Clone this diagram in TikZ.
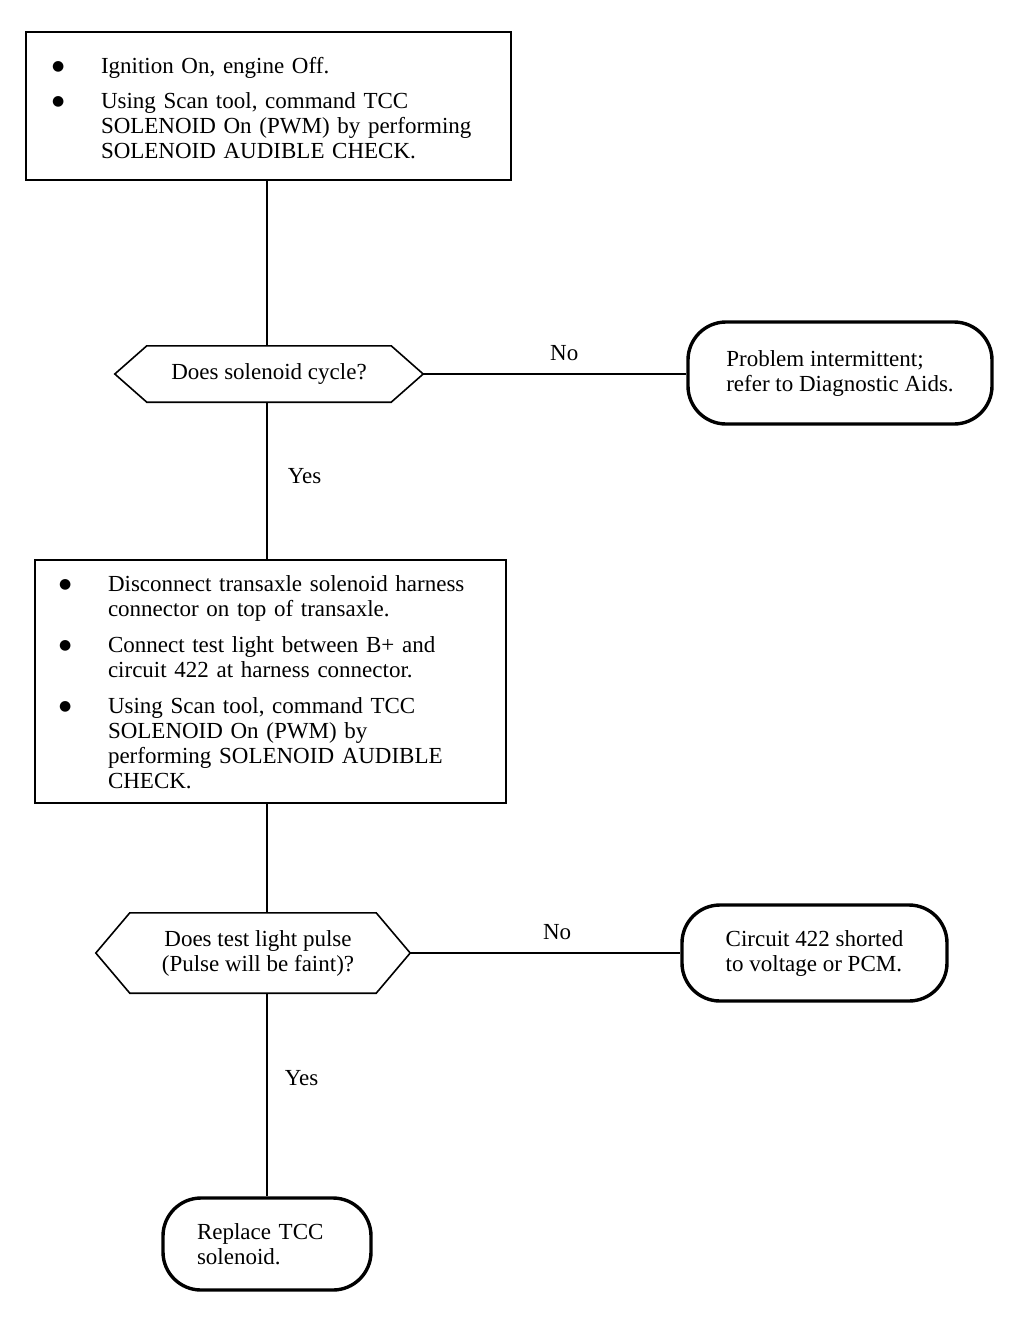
\documentclass[tikz,border=0pt]{standalone}
\usepackage{fontspec}
\setmainfont{Liberation Serif}
\newfontfamily\djv{DejaVu Sans}
\usetikzlibrary{calc}
\newcommand\blt{\makebox[49pt][l]{\raisebox{3pt}{\djv\fontsize{14}{14}\selectfont ●}}}
\begin{document}
\begin{tikzpicture}[x=1pt,y=-1pt,
  every node/.style={font=\fontsize{23}{25}\selectfont},
  procbox/.style={draw, line width=2.8pt, rectangle, anchor=center, align=left, inner ysep=0pt},
  decbox/.style={rectangle, align=center, inner sep=0pt},
  hexline/.style={line width=1.6pt, line join=miter},
  termbox/.style={draw, line width=3.4pt, rectangle, rounded corners=38pt, align=left, inner sep=0pt},
  conn/.style={line width=1.6pt},
  lbl/.style={inner sep=0pt}]
\useasboundingbox (0,0) rectangle (1024,1318);

\node[procbox, minimum width=485pt, minimum height=148pt, text width=433pt, inner xsep=26pt] (b1) at (268.5,106)
{\begin{tabular}{@{}l@{}l@{}}
\rule{0pt}{27.5pt}\blt & Ignition On, engine Off.\\[10pt]
\blt & Using Scan tool, command TCC\\
 & SOLENOID On (PWM) by performing\\
 & SOLENOID AUDIBLE CHECK.
\end{tabular}};

\node[decbox, minimum width=308pt, minimum height=56pt] (d1) at (269,374) {Does solenoid cycle?};
\draw[hexline] (d1.west) -- ([xshift=32pt]d1.north west) -- ([xshift=-32pt]d1.north east) -- (d1.east)
  -- ([xshift=-32pt]d1.south east) -- ([xshift=32pt]d1.south west) -- cycle;

\node[termbox, minimum width=304pt, minimum height=102pt] (t1) at (840,373)
{Problem intermittent;\\refer to Diagnostic Aids.};

\node[procbox, minimum width=471pt, minimum height=243pt, text width=423pt, inner xsep=24pt] (b2) at (270.5,681.5)
{\begin{tabular}{@{}l@{}l@{}}
\rule{0pt}{23.5pt}\blt & Disconnect transaxle solenoid harness\\
 & connector on top of transaxle.\\[11pt]
\blt & Connect test light between B+ and\\
 & circuit 422 at harness connector.\\[11pt]
\blt & Using Scan tool, command TCC\\
 & SOLENOID On (PWM) by\\
 & performing SOLENOID AUDIBLE\\
 & CHECK.
\end{tabular}};

\node[decbox, minimum width=314pt, minimum height=80pt] (d2) at (253,953)
{\hspace*{10pt}Does test light pulse\\\hspace*{10pt}(Pulse will be faint)?};
\draw[hexline] (d2.west) -- ([xshift=34pt]d2.north west) -- ([xshift=-34pt]d2.north east) -- (d2.east)
  -- ([xshift=-34pt]d2.south east) -- ([xshift=34pt]d2.south west) -- cycle;

\node[termbox, minimum width=265pt, minimum height=96pt] (t2) at (814.5,953)
{Circuit 422 shorted\\to voltage or PCM.};

\node[termbox, minimum width=208pt, minimum height=92pt, text width=140pt, inner xsep=34pt] (t3) at (267,1244)
{Replace TCC\\solenoid.};

\draw[conn] (b1.south -| t3.north) -- (d1.north -| t3.north);
\draw[conn] (d1.east) -- node[lbl, pos=0.536, above=12pt] {No} (d1.east -| t1.west);
\draw[conn] (d1.south -| t3.north) -- node[lbl, pos=0.475, right=20pt] {Yes} (b2.north -| t3.north);
\draw[conn] (b2.south -| t3.north) -- (d2.north -| t3.north);
\draw[conn] (d2.east) -- node[lbl, pos=0.544, above=12pt] {No} (t2.west);
\draw[conn] (d2.south -| t3.north) -- node[lbl, pos=0.42, right=17pt] {Yes} (t3.north);
\end{tikzpicture}
\end{document}
